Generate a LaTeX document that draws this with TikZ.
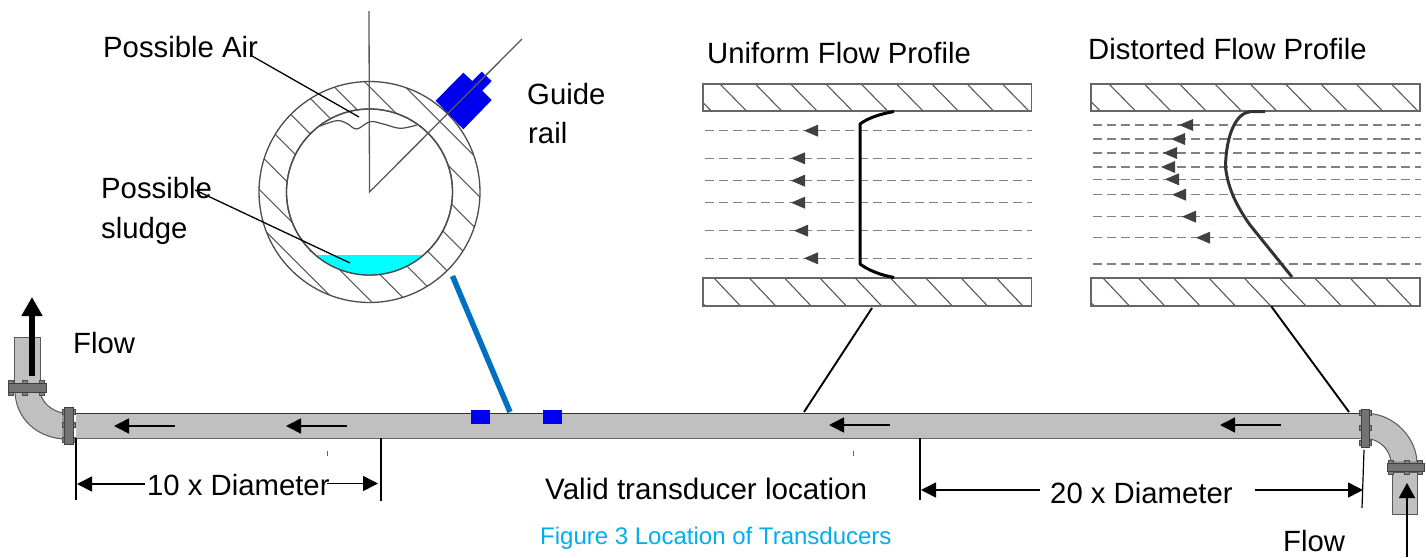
\documentclass[tikz,border=0pt]{standalone}
\usepackage{fontspec}
\setmainfont{Liberation Sans}
\usetikzlibrary{arrows.meta}
\definecolor{pipegray}{RGB}{192,192,192}
\definecolor{capblue}{RGB}{0,174,239}
\definecolor{railblue}{RGB}{0,112,192}
\definecolor{xdcr}{RGB}{0,0,240}
\definecolor{sludgecyan}{RGB}{0,255,255}
\tikzset{
  lbl/.style={anchor=base west,inner sep=0pt,font=\fontsize{29.3}{34}\selectfont,text=black},
  figcaption/.style={anchor=base west,inner sep=0pt,font=\fontsize{24}{28}\selectfont,text=capblue},
  hatchln/.style={draw=black!65,line width=1.1pt},
  wall/.style={draw=black!60,line width=1.4pt,fill=white},
  flowln/.style={draw=black!50,line width=1.3pt,dash pattern=on 9pt off 5pt},
  flowtip/.style={fill=black!75},
  leader/.style={draw=black,line width=1.3pt},
  leaderb/.style={draw=black,line width=1.9pt},
  pipebody/.style={fill=pipegray,draw=black!65,line width=1pt},
  flange/.style={fill=black!55,draw=black!75,line width=.7pt},
  bolt/.style={fill=black!50,draw=black!70,line width=.4pt},
  dimln/.style={draw=black,line width=1.6pt,-{Triangle[length=15pt,width=15pt]}},
  extln/.style={draw=black,line width=1.6pt},
  pipearrow/.style={draw=black,line width=1.6pt,-{Triangle[length=15pt,width=15pt]}},
  profile/.style={draw=black,line width=3pt,line join=round},
}
\newcommand{\hatchwall}[5]{%
  \path[wall] (#1,#2) rectangle (#3,#4);
  \begin{scope}
    \clip (#1,#2) rectangle (#3,#4);
    \foreach \k in {-1,...,10}
      \draw[hatchln] ({#5+35.3*\k},#2) -- ({#5+35.3*\k+26.5},#4);
  \end{scope}
  \path[draw=black!60,line width=1.4pt] (#1,#2) rectangle (#3,#4);
}
\begin{document}
\begin{tikzpicture}[x=1pt,y=-1pt]
\useasboundingbox (0,0) rectangle (1426,557);
\fill[white] (0,0) rectangle (1426,557);

% ---------- pipe cross section
\coordinate (cc) at (369.5,192);
\coordinate (vtop) at (369,11);
\coordinate (rtop) at (522,39);
\begin{scope}
  \clip (cc) circle[radius=110.5pt];
  \foreach \k in {0,...,8}
    \draw[hatchln] (240,{240-318.3+35.5*\k}) -- (500,{500-318.3+35.5*\k});
\end{scope}
\draw[draw=black!70,line width=1.3pt,fill=white] (cc) circle[radius=83pt];
\begin{scope}
  \clip (cc) circle[radius=83pt];
  \fill[sludgecyan] (280,255) rectangle (460,280);
\end{scope}
\draw[draw=black!70,line width=1.3pt] (cc) circle[radius=83pt];
\draw[draw=black!70,line width=1.3pt] (cc) circle[radius=110.5pt];
\draw[draw=black!70,line width=1.2pt] plot[smooth,tension=.6] coordinates {(320,126) (336.7,120.7) (346.7,123.3) (356.7,129) (370,121.7) (383.3,124) (400,128.3) (416.7,125)};
\fill[xdcr] (435.7,100.7) -- (463.3,72.7) -- (472.3,81) -- (481.7,71.7) -- (491.7,81) -- (482.3,90.7) -- (491.7,100) -- (463.3,129.3) -- cycle;
\draw[draw=black!65,line width=1.3pt] (vtop) -- (cc) -- (rtop);

% ---------- labels on the section
\node[lbl] (air) at (103,57) {Possible Air};
\node[lbl] (guide) at (527,104) {Guide};
\node[lbl] (rail) at (528,143) {rail};
\node[lbl] (sl1) at (101,198) {Possible};
\node[lbl] (sl2) at (101,238) {sludge};
\coordinate (airA) at (252,56);
\coordinate (airB) at (359,117);
\coordinate (slA) at (195,190);
\coordinate (slB) at (350,263);
\draw[leader] (airA) -- (airB);
\draw[leader] (slA) -- (slB);

% ---------- flow profile walls
\node[lbl] (t1) at (707,63) {Uniform Flow Profile};
\node[lbl] (t2) at (1088,59) {Distorted Flow Profile};
\hatchwall{703}{84}{1031.5}{111}{720}
\hatchwall{703}{278}{1031.5}{306}{714}
\hatchwall{1091}{84}{1420}{111}{1109}
\hatchwall{1091}{278}{1420}{306}{1103}

\foreach \yy/\tip in {130.7/804,158.3/791,180.7/791,202.7/791,230.7/794,258.3/804}{
  \draw[flowln] (705,\yy) -- (1032,\yy);
  \fill[flowtip] (\tip,\yy) -- ++(14,-6) -- ++(0,12) -- cycle;
}
\foreach \yy/\tip in {125/1179,139/1171,153/1163,167/1161,179.3/1165,194.7/1172,216.7/1182,237.7/1196}{
  \draw[flowln] (1093,\yy) -- (1421,\yy);
  \fill[flowtip] (\tip,\yy) -- ++(14,-6) -- ++(0,12) -- cycle;
}
\draw[flowln] (1093,264) -- (1421,264);
\draw[profile] (894,111.5) .. controls (880,114) and (868,118) .. (860,124) -- (860,264) .. controls (868,270) and (880,275) .. (894,277.5);
\draw[profile,draw=black!80] (1265,111.7) -- (1250,111.7) .. controls (1236,113) and (1226,135) .. (1225.5,167) .. controls (1228,190) and (1238,208) .. (1250,225) -- (1292,277);

% ---------- main pipe, left elbow
\fill[pipegray] (76,413.5) rectangle (1361,438.5);
\draw[draw=black!80,line width=1.2pt] (76,413.5) -- (1361,413.5);
\draw[draw=black!60,line width=1.6pt] (76,438.5) -- (1361,438.5);
\path[pipebody] (15,392) .. controls (16,418) and (36,437) .. (63,439) -- (63,413) .. controls (52,411) and (42,403) .. (40,392) -- cycle;
\path[pipebody] (14,337) rectangle (40,383);
\foreach \xx in {11,25,42}
  \path[bolt] (\xx-2.5,380) rectangle (\xx+2.5,395);
\path[flange] (8.5,383) rectangle (46.5,392);
\foreach \yy in {412,425,440}
  \path[bolt] (62,\yy-2.5) rectangle (75,\yy+2.5);
\path[flange] (64,407) rectangle (73,444);

% ---------- right elbow
\path[pipebody] (1369,413.5) .. controls (1395,415) and (1416,438) .. (1417,462) -- (1391,462) .. controls (1390,450) and (1380,440) .. (1369,439) -- cycle;
\path[pipebody] (1392,472) rectangle (1417,514);
\foreach \yy in {413,428,443}
  \path[bolt] (1359,\yy-2.5) rectangle (1371,\yy+2.5);
\path[flange] (1361,409) rectangle (1369,447);
\foreach \xx in {1391,1407,1420}
  \path[bolt] (\xx-2.5,460) rectangle (\xx+2.5,474);
\path[flange] (1387,463) rectangle (1424,471);

% ---------- transducers and connector
\node[fill=xdcr,minimum width=19pt,minimum height=14pt,inner sep=0pt] (x1) at (480.5,417) {};
\node[fill=xdcr,minimum width=19pt,minimum height=14pt,inner sep=0pt] (x2) at (552.5,417) {};
\coordinate (secB) at (452.5,276);
\coordinate (pipeT) at (510,412);
\draw[draw=railblue,line width=5.5pt] (secB) -- (pipeT);

% ---------- flow arrows
\coordinate (a1s) at (175,426); \coordinate (a1e) at (114,426);
\coordinate (a2s) at (347,426); \coordinate (a2e) at (286,426);
\coordinate (a3s) at (890,425); \coordinate (a3e) at (829,425);
\coordinate (a4s) at (1281,425); \coordinate (a4e) at (1220,425);
\draw[pipearrow] (a1s) -- (a1e);
\draw[pipearrow] (a2s) -- (a2e);
\draw[pipearrow] (a3s) -- (a3e);
\draw[pipearrow] (a4s) -- (a4e);
\coordinate (upS) at (32,376); \coordinate (upE) at (32,297);
\draw[draw=black,line width=6pt,-{Triangle[length=19pt,width=20pt]}] (upS) -- (upE);
\coordinate (inS) at (1407,557); \coordinate (inE) at (1407,483);
\draw[draw=black,line width=1.8pt,-{Triangle[length=15pt,width=16pt]}] (inS) -- (inE);

% ---------- leaders from walls to pipe
\coordinate (uA) at (872,308); \coordinate (uB) at (804,412);
\coordinate (dA) at (1271,306); \coordinate (dB) at (1349,412);
\draw[leaderb] (uA) -- (uB);
\draw[leaderb] (dA) -- (dB);

% ---------- dimensions
\coordinate (e1a) at (76,438); \coordinate (e1b) at (76,500);
\coordinate (e2a) at (381,438); \coordinate (e2b) at (381,501);
\coordinate (e3a) at (920,438); \coordinate (e3b) at (920,500);
\coordinate (e4a) at (1364,450); \coordinate (e4b) at (1362,508);
\draw[extln] (e1a) -- (e1b);
\draw[extln] (e2a) -- (e2b);
\draw[extln] (e3a) -- (e3b);
\draw[draw=black,line width=1.2pt] (e4a) -- (e4b);
\coordinate (d1s) at (145,484); \coordinate (d1e) at (77,484);
\coordinate (d2s) at (327,483.5); \coordinate (d2e) at (378,483.5);
\coordinate (d3s) at (1040,490); \coordinate (d3e) at (921,490);
\coordinate (d4s) at (1255,490); \coordinate (d4e) at (1363,490);
\draw[dimln] (d1s) -- (d1e);
\draw[dimln] (d2s) -- (d2e);
\draw[dimln] (d3s) -- (d3e);
\draw[dimln] (d4s) -- (d4e);
\coordinate (m1a) at (327,451); \coordinate (m1b) at (327,456);
\coordinate (m2a) at (853,451); \coordinate (m2b) at (853,456);
\draw[draw=black!60,line width=1pt] (m1a) -- (m1b);
\draw[draw=black!60,line width=1pt] (m2a) -- (m2b);

% ---------- remaining text
\node[lbl] (fl1) at (73,353) {Flow};
\node[lbl] (d10) at (147,495) {10 x Diameter};
\node[lbl,font=\fontsize{29.6}{34}\selectfont] (val) at (545,499) {Valid transducer location};
\node[lbl] (d20) at (1050,503) {20 x Diameter};
\node[lbl] (fl2) at (1283,551) {Flow};
\node[figcaption] (fig) at (540,544) {Figure 3 Location of Transducers};
\end{tikzpicture}
\end{document}
